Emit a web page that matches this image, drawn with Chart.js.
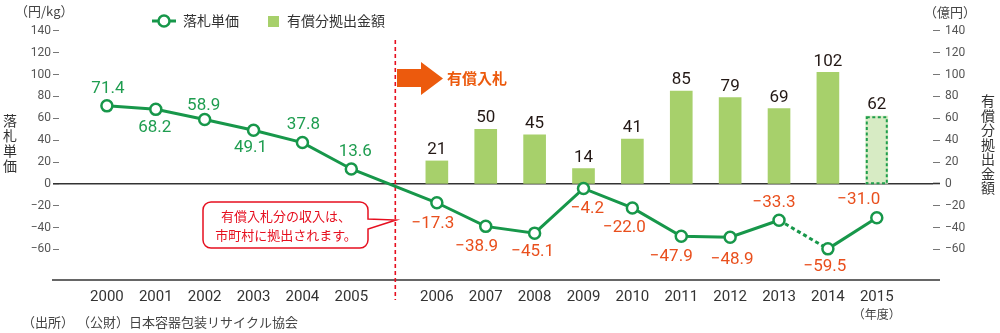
<!DOCTYPE html>
<html><head><meta charset="utf-8">
<script src="https://cdn.jsdelivr.net/npm/chart.js@4.4.1/dist/chart.umd.min.js"></script>
<style>html,body{margin:0;padding:0;background:#fff;}#wrap{width:1000px;height:333px;position:relative;}</style>
</head><body><div id="wrap"><canvas id="c" width="1000" height="333"></canvas></div>
<script>
// ---- data ----
const years = ['2000','2001','2002','2003','2004','2005','2006','2007','2008','2009','2010','2011','2012','2013','2014','2015'];
const unitPrice = [71.4, 68.2, 58.9, 49.1, 37.8, 13.6, -17.3, -38.9, -45.1, -4.2, -22.0, -47.9, -48.9, -33.3, -59.5, -31.0];
const contribution = [null, null, null, null, null, null, 21, 50, 45, 14, 41, 85, 79, 69, 102, 62];
const yTicks = [-60, -40, -20, 0, 20, 40, 60, 80, 100, 120, 140];
const y2Ticks = [-60, -40, -20, 0, 20, 40, 60, 80, 100, 120, 140];

// ---- styling ----
const NUM = "Roboto, 'Noto Sans CJK JP', sans-serif";
const JP = "'Noto Sans CJK JP', sans-serif";
const GREEN = '#17974a';
const BAR = '#a7d06b';
const BAR_EST = '#d7ebc4';
const NEG = '#e94f1d';
const RED = '#e60f1f';
const GAP = 0.75; // extra spacing between 2005 and 2006
const xIndex = i => i + (i >= 6 ? GAP : 0);
// label offsets relative to each point (dx, dy)
const priceLabelOffsets = [[1,-17],[-1,18],[-1,-14],[-3,18],[1,-18],[4,-17],[-4,21],[-9,20],[-2,19],[4,20],[-8,20],[-10,21],[2,22],[-5,-17],[-3,18],[-18,-18]];

const fmt = v => (v < 0 ? '\u2212' + Math.abs(v).toFixed(1) : v.toFixed(1));
const tickFmt = v => (v < 0 ? '\u2212' + Math.abs(v) : String(v));

const lineData = unitPrice.map((v, i) => ({x: xIndex(i), y: v}));
const barData = contribution.map((v, i) => ({x: xIndex(i), y: v, i})).filter(d => d.y !== null);

const decor = {
  id: 'decor',
  beforeDatasetsDraw(chart) {
    const c = chart.ctx, a = chart.chartArea;
    c.save();
    c.strokeStyle = '#333'; c.lineWidth = 1.6;
    c.beginPath(); c.moveTo(a.left - 7, a.bottom); c.lineTo(a.right + 7, a.bottom); c.stroke();
    const xs = chart.scales.x.getPixelForValue(5.9);
    c.strokeStyle = RED; c.lineWidth = 1.6; c.setLineDash([4, 3]);
    c.beginPath(); c.moveTo(xs, 40); c.lineTo(xs, 300); c.stroke();
    c.restore();
  },
  afterDatasetsDraw(chart) {
    const c = chart.ctx;
    const bm = chart.getDatasetMeta(1);
    const last = bm.data[bm.data.length - 1];
    c.save();
    c.strokeStyle = '#1f9e4c'; c.lineWidth = 2; c.setLineDash([3, 2.5]);
    c.strokeRect(last.x - last.width / 2 + 1, last.y + 1, last.width - 2, last.base - last.y - 1);
    c.restore();
    c.save();
    c.font = '17px ' + NUM; c.fillStyle = '#231815'; c.textAlign = 'center'; c.textBaseline = 'middle';
    bm.data.forEach((el, k) => { c.fillText(String(barData[k].y), el.x, el.y - 11); });
    c.restore();
    const lm = chart.getDatasetMeta(0);
    c.save();
    c.font = '17px ' + NUM; c.textAlign = 'center'; c.textBaseline = 'middle';
    lm.data.forEach((el, i) => {
      const v = unitPrice[i];
      c.fillStyle = v >= 0 ? '#1f9d50' : NEG;
      const o = priceLabelOffsets[i];
      c.fillText(fmt(v), el.x + o[0], el.y + o[1]);
    });
    c.restore();
  },
  afterDraw(chart) {
    const c = chart.ctx;
    c.save();
    c.fillStyle = '#ec5a0d';
    c.beginPath();
    c.moveTo(397, 69); c.lineTo(421, 69); c.lineTo(421, 62); c.lineTo(443, 78.5);
    c.lineTo(421, 95); c.lineTo(421, 87); c.lineTo(397, 87); c.closePath(); c.fill();
    c.font = 'bold 15px ' + JP; c.textBaseline = 'middle'; c.textAlign = 'left';
    c.fillText('有償入札', 447, 78);
    c.strokeStyle = RED; c.lineWidth = 1.5; c.fillStyle = '#fff';
    const bx = 203, by = 202, bw = 165, bh = 46, r = 8;
    c.beginPath();
    c.moveTo(bx + r, by); c.lineTo(bx + bw - r, by); c.arcTo(bx + bw, by, bx + bw, by + r, r);
    c.lineTo(bx + bw, by + 17); c.lineTo(396, 220); c.lineTo(bx + bw, by + 27);
    c.lineTo(bx + bw, by + bh - r); c.arcTo(bx + bw, by + bh, bx + bw - r, by + bh, r);
    c.lineTo(bx + r, by + bh); c.arcTo(bx, by + bh, bx, by + bh - r, r);
    c.lineTo(bx, by + r); c.arcTo(bx, by, bx + r, by, r); c.closePath();
    c.fill(); c.stroke();
    c.fillStyle = RED; c.font = '13px ' + JP; c.textAlign = 'center';
    c.fillText('有償入札分の収入は、', 286, 216);
    c.fillText('市町村に拠出されます。', 286, 235);
    c.strokeStyle = GREEN; c.lineWidth = 3;
    c.beginPath(); c.moveTo(152, 21); c.lineTo(176, 21); c.stroke();
    c.fillStyle = '#fff'; c.lineWidth = 2.5;
    c.beginPath(); c.arc(164, 21, 5.5, 0, Math.PI * 2); c.fill(); c.stroke();
    c.fillStyle = '#333'; c.font = '14px ' + JP; c.textAlign = 'left';
    c.fillText('落札単価', 183, 21);
    c.fillStyle = BAR; c.fillRect(268, 16, 11, 11);
    c.fillStyle = '#333';
    c.fillText('有償分拠出金額', 287, 21);
    c.fillStyle = '#444'; c.font = '13px ' + JP;
    c.fillText('（円/kg）', 15, 11);
    c.fillText('（億円）', 924, 12);
    c.textAlign = 'center'; c.font = '14px ' + JP; c.fillStyle = '#333';
    '落札単価'.split('').forEach((ch, i) => c.fillText(ch, 10, 121 + 15 * i));
    '有償分拠出金額'.split('').forEach((ch, i) => c.fillText(ch, 988, 101 + 14.5 * i));
    c.font = '12px ' + JP; c.fillStyle = '#444';
    c.fillText('（年度）', chart.scales.x.getPixelForValue(xIndex(15)), 314);
    c.textAlign = 'left'; c.font = '13px ' + JP;
    c.fillText('（出所） （公財）日本容器包装リサイクル協会', 22, 322);
    c.restore();
  }
};

const zeroColor = ctx => (ctx.tick && ctx.tick.value === 0 ? '#333' : 'rgba(0,0,0,0)');
const tickColor = ctx => (ctx.tick && ctx.tick.value === 0 ? '#333' : '#777');
const zeroWidth = ctx => (ctx.tick && ctx.tick.value === 0 ? 1.6 : 1);

new Chart(document.getElementById('c'), {
  data: {
    datasets: [
      {
        type: 'line', label: '落札単価', data: lineData, yAxisID: 'y', xAxisID: 'x',
        borderColor: GREEN, borderWidth: 3, pointRadius: 5.5, pointBorderWidth: 2.5,
        pointBackgroundColor: '#fff', pointBorderColor: GREEN, tension: 0,
        segment: { borderDash: ctx => (ctx.p0DataIndex === 13 ? [4, 3] : undefined) }
      },
      {
        type: 'bar', label: '有償分拠出金額', data: barData, yAxisID: 'y2', xAxisID: 'x',
        backgroundColor: ctx => (ctx.raw && ctx.raw.i === 15 ? BAR_EST : BAR),
        borderWidth: 0, barThickness: 22
      }
    ]
  },
  options: {
    responsive: false, animation: false, devicePixelRatio: 1,
    layout: { padding: { top: 20, left: 0, right: 0, bottom: 0 } },
    plugins: { legend: { display: false }, tooltip: { enabled: false } },
    scales: {
      x: {
        type: 'linear', min: -0.98, max: 16.9, position: 'bottom', offset: false,
        afterBuildTicks: s => { s.ticks = years.map((y, i) => ({ value: xIndex(i) })); },
        afterFit: s => { s.height = 53; },
        grid: { display: false, drawTicks: false, offset: false }, border: { display: false },
        ticks: { autoSkip: false, maxRotation: 0, padding: 8, color: '#333', font: { size: 15, family: NUM },
          callback: (v, i) => years[i] }
      },
      y: {
        position: 'left', min: -88, max: 150,
        afterBuildTicks: s => { s.ticks = yTicks.map(v => ({ value: v })); },
        afterFit: s => { s.width = 59; },
        border: { display: false },
        grid: { drawOnChartArea: true, color: zeroColor, lineWidth: zeroWidth, tickColor: tickColor, tickLength: 6, tickWidth: zeroWidth },
        ticks: { padding: 2, color: '#555', font: { size: 12, family: NUM }, callback: v => tickFmt(v) }
      },
      y2: {
        position: 'right', min: -88, max: 150,
        afterBuildTicks: s => { s.ticks = y2Ticks.map(v => ({ value: v })); },
        afterFit: s => { s.width = 67; },
        border: { display: false },
        grid: { drawOnChartArea: false, tickColor: tickColor, tickLength: 7, tickWidth: zeroWidth },
        ticks: { padding: 5, color: '#555', font: { size: 12, family: NUM }, callback: v => tickFmt(v) }
      }
    }
  },
  plugins: [decor]
});
</script></body></html>
